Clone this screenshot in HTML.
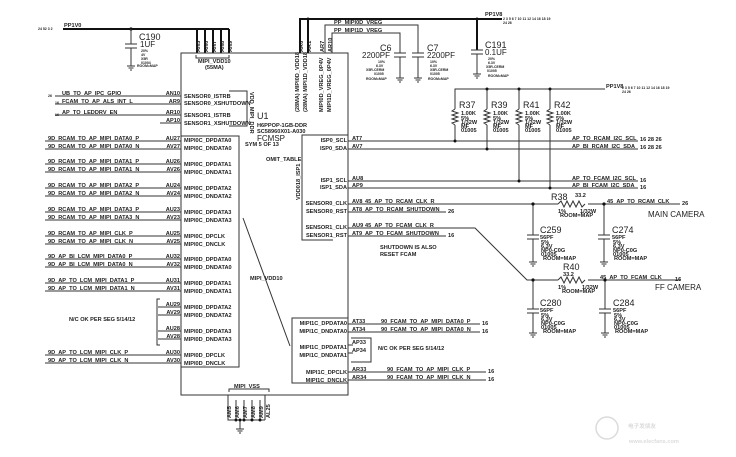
<!DOCTYPE html>
<html><head><meta charset="utf-8"><style>
html,body{margin:0;padding:0;background:#fff;width:736px;height:457px;overflow:hidden}
svg{display:block}
text{font-family:"Liberation Sans",sans-serif;font-weight:bold;font-size:5.6px;fill:#222}
.b{font-size:9px;font-weight:normal}
.m{font-size:8px;font-weight:normal}
.s{font-size:3.5px}
.l{stroke:#333;stroke-width:1;fill:none}
.t{stroke:#111;stroke-width:2;fill:none}
</style></head><body>
<svg width="736" height="457" viewBox="0 0 736 457" xmlns="http://www.w3.org/2000/svg">
<text class="s" x="38" y="30">24 52 3 2</text>
<text x="64" y="27">PP1V0</text>
<path class="t" d="M63 29H229M197 29V53M205 29V53M213 29V53M221 29V53M229 29V53"/>
<circle cx="131" cy="29" r="1.6" fill="#111"/>
<path class="l" d="M131 29V44M125 44H137M125 48H137M131 48V66M127 66H135M128.5 68H133.5M130 70H132"/>
<text class="b" x="139" y="40">C190</text><text class="m" x="140" y="47">1UF</text>
<text class="s" x="141" y="52">20%</text><text class="s" x="141" y="56">4V</text><text class="s" x="141" y="60">X5R</text><text class="s" x="141" y="64">01004</text><text class="s" x="137" y="67">ROOM=MAP</text>
<g font-size="5" transform="rotate(-90)"><text x="-52" y="200">AN5</text><text x="-52" y="208">AN6</text><text x="-52" y="216">AN7</text><text x="-52" y="224">AN8</text><text x="-52" y="232">AN9</text>
<text x="-52" y="303">AR6</text><text x="-52" y="311">AR1</text><text x="-52" y="324">AR7</text><text x="-52" y="332">AR10</text></g>
<path class="l" d="M196 55v3h33v-3"/>
<text x="198" y="63">MIPI_VDD10</text><text x="205" y="69">(55MA)</text>
<rect x="181" y="53" width="167" height="342" class="l"/>
<path class="l" d="M181 136H239V367H181"/>
<path class="l" d="M229 91H247V126H229"/>
<text font-size="4" transform="translate(250,92) rotate(90)">VDD_MIPI_DDR</text>
<text class="b" font-size="14" x="257" y="119">U1</text>
<text x="257" y="127">H6PPOP-1GB-DDR</text>
<text x="257" y="133">SC58960X01-A030</text>
<text class="m" x="257" y="141">FCMSP</text>
<text x="245" y="146">SYM 5 OF 13</text>
<text x="266" y="161">OMIT_TABLE</text>
<path class="l" d="M243 218L290 346"/>
<text font-size="4" x="250" y="280">MIPI_VDD10</text>
<g transform="rotate(-90)"><text x="-112" y="299">(28MA) MIPI0D_VDD18</text><text x="-112" y="307">(28MA) MIPI1D_VDD18</text><text x="-112" y="323">MIPI0D_VREG_0P4V</text><text x="-112" y="331">MIPI1D_VREG_0P4V</text></g>
<text font-size="3.5" transform="translate(300,200) rotate(-90)">VDD018_ISP1</text>
<g class="l">
<path d="M55 96H181M55 104H181M55 115H181M160 123H181M45 141H181M45 149H181M45 164H181M45 172H181M45 188H181M45 196H181M45 212H181M45 220H181M45 236H181M45 244H181M45 259H181M45 267H181M45 283H181M45 291H181M158 307H181M158 315H181M158 331H181M158 339H181M45 355H181M45 363H181"/>
<path d="M160 299H157V345H160"/>
</g>
<g font-size="5.2">
<text class="s" x="48" y="97">26</text><text x="62" y="95">UB_TO_AP_IPC_GPIO</text>
<text class="s" x="55" y="104">16</text><text x="62" y="103">FCAM_TO_AP_ALS_INT_L</text>
<text class="s" x="55" y="116">16</text><text x="62" y="114">AP_TO_LEDDRV_EN</text>
<text x="48" y="140">9D_RCAM_TO_AP_MIPI_DATA0_P</text><text x="48" y="148">9D_RCAM_TO_AP_MIPI_DATA0_N</text>
<text x="48" y="163">9D_RCAM_TO_AP_MIPI_DATA1_P</text><text x="48" y="171">9D_RCAM_TO_AP_MIPI_DATA1_N</text>
<text x="48" y="187">9D_RCAM_TO_AP_MIPI_DATA2_P</text><text x="48" y="195">9D_RCAM_TO_AP_MIPI_DATA2_N</text>
<text x="48" y="211">9D_RCAM_TO_AP_MIPI_DATA3_P</text><text x="48" y="219">9D_RCAM_TO_AP_MIPI_DATA3_N</text>
<text x="48" y="235">9D_RCAM_TO_AP_MIPI_CLK_P</text><text x="48" y="243">9D_RCAM_TO_AP_MIPI_CLK_N</text>
<text x="48" y="258">9D_AP_BI_LCM_MIPI_DATA0_P</text><text x="48" y="266">9D_AP_BI_LCM_MIPI_DATA0_N</text>
<text x="48" y="282">9D_AP_TO_LCM_MIPI_DATA1_P</text><text x="48" y="290">9D_AP_TO_LCM_MIPI_DATA1_N</text>
<text x="69" y="321">N/C OK PER SEG 5/14/12</text>
<text x="48" y="354">9D_AP_TO_LCM_MIPI_CLK_P</text><text x="48" y="362">9D_AP_TO_LCM_MIPI_CLK_N</text>
</g>
<g text-anchor="end" font-size="5.2">
<text x="180" y="95">AN10</text><text x="180" y="103">AR9</text><text x="180" y="114">AR10</text><text x="180" y="122">AP10</text>
<text x="180" y="140">AU27</text><text x="180" y="148">AV27</text><text x="180" y="163">AU26</text><text x="180" y="171">AV26</text>
<text x="180" y="187">AU24</text><text x="180" y="195">AV24</text><text x="180" y="211">AU23</text><text x="180" y="219">AV23</text>
<text x="180" y="235">AU25</text><text x="180" y="243">AV25</text><text x="180" y="258">AU32</text><text x="180" y="266">AV32</text>
<text x="180" y="282">AU31</text><text x="180" y="290">AV31</text><text x="180" y="306">AU29</text><text x="180" y="314">AV29</text>
<text x="180" y="330">AU28</text><text x="180" y="338">AV28</text><text x="180" y="354">AU30</text><text x="180" y="362">AV30</text>
</g>
<g font-size="5.2">
<text x="184" y="98">SENSOR0_ISTRB</text><text x="184" y="105">SENSOR0_XSHUTDOWN</text><text x="184" y="117">SENSOR1_ISTRB</text><text x="184" y="125">SENSOR1_XSHUTDOWN</text>
<text x="184" y="142">MIPI0C_DPDATA0</text><text x="184" y="150">MIPI0C_DNDATA0</text><text x="184" y="166">MIPI0C_DPDATA1</text><text x="184" y="174">MIPI0C_DNDATA1</text>
<text x="184" y="190">MIPI0C_DPDATA2</text><text x="184" y="198">MIPI0C_DNDATA2</text><text x="184" y="214">MIPI0C_DPDATA3</text><text x="184" y="222">MIPI0C_DNDATA3</text>
<text x="184" y="238">MIPI0C_DPCLK</text><text x="184" y="246">MIPI0C_DNCLK</text><text x="184" y="261">MIPI0D_DPDATA0</text><text x="184" y="269">MIPI0D_DNDATA0</text>
<text x="184" y="285">MIPI0D_DPDATA1</text><text x="184" y="293">MIPI0D_DNDATA1</text><text x="184" y="309">MIPI0D_DPDATA2</text><text x="184" y="317">MIPI0D_DNDATA2</text>
<text x="184" y="333">MIPI0D_DPDATA3</text><text x="184" y="341">MIPI0D_DNDATA3</text><text x="184" y="357">MIPI0D_DPCLK</text><text x="184" y="365">MIPI0D_DNCLK</text>
</g>
<path class="l" d="M348 135H302V240H333"/>
<path class="l" d="M348 318H292V383H348"/>
<g font-size="5.2" text-anchor="end">
<text x="347" y="142">ISP0_SCL</text><text x="347" y="150">ISP0_SDA</text><text x="347" y="182">ISP1_SCL</text><text x="347" y="189">ISP1_SDA</text>
<text x="347" y="205">SENSOR0_CLK</text><text x="347" y="213">SENSOR0_RST</text><text x="347" y="229">SENSOR1_CLK</text><text x="347" y="237">SENSOR1_RST</text>
<text x="347" y="325">MIPI1C_DPDATA0</text><text x="347" y="333">MIPI1C_DNDATA0</text><text x="347" y="349">MIPI1C_DPDATA1</text><text x="347" y="357">MIPI1C_DNDATA1</text>
<text x="347" y="374">MIPI1C_DPCLK</text><text x="347" y="382">MIPI1C_DNCLK</text>
</g>
<path class="l" d="M229 392v-3h40v3"/>
<text x="234" y="388">MIPI_VSS</text>
<path class="l" d="M228 395V420H265M228 400V420M236 400V420M244 400V420M252 400V420M260 400V420M265 395V420M240 420V429M236 429H244M237.5 431H242.5M239 433H241"/>
<g font-size="5" transform="rotate(-90)"><text x="-418" y="231">AM5</text><text x="-418" y="239">AM6</text><text x="-418" y="247">AM7</text><text x="-418" y="255">AM8</text><text x="-418" y="263">AM9</text><text x="-418" y="270">AL25</text></g>
<circle cx="236" cy="420" r="1.5" fill="#111"/><circle cx="240" cy="420" r="1.5" fill="#111"/><circle cx="244" cy="420" r="1.5" fill="#111"/><circle cx="252" cy="420" r="1.5" fill="#111"/><circle cx="260" cy="420" r="1.5" fill="#111"/>
<path class="t" d="M300 53V19H502M308 53V19"/>
<circle cx="308" cy="19" r="1.5" fill="#111"/><circle cx="477" cy="19" r="1.5" fill="#111"/>
<text x="485" y="16">PP1V8</text><text class="s" x="503" y="20">2 3 5 6 7 10 11 12 14 16 18 19</text><text class="s" x="503" y="24">24 26</text>
<path class="l" d="M325 53V25H418V53M332 53V33H400V53"/>
<text x="334" y="24">PP_MIPI0D_VREG</text><text x="334" y="32">PP_MIPI1D_VREG</text>
<path class="l" d="M394 53H406M394 57H406M400 57V78M396 78H404M397.5 80H402.5M399 82H401"/>
<path class="l" d="M412 53H424M412 57H424M418 57V78M414 78H422M415.5 80H420.5M417 82H419"/>
<path class="t" d="M477 19V50"/><path class="l" d="M471 50H483M471 54H483M477 54V74M473 74H481M474.5 76H479.5M476 78H478"/>
<text class="b" x="380" y="51">C6</text><text class="m" x="362" y="58">2200PF</text><text class="s" x="378" y="63">10%</text><text class="s" x="376" y="67">6.3V</text><text class="s" x="366" y="71">X5R-CERM</text><text class="s" x="374" y="75">01005</text><text class="s" x="366" y="80">ROOM=MAP</text>
<text class="b" x="427" y="51">C7</text><text class="m" x="427" y="58">2200PF</text><text class="s" x="430" y="63">10%</text><text class="s" x="430" y="67">6.3V</text><text class="s" x="430" y="71">X5R-CERM</text><text class="s" x="430" y="75">01005</text><text class="s" x="428" y="80">ROOM=MAP</text>
<text class="b" x="485" y="48">C191</text><text class="m" x="485" y="55">0.1UF</text><text class="s" x="488" y="60">20%</text><text class="s" x="488" y="64">6.3V</text><text class="s" x="486" y="68">X5R-CERM</text><text class="s" x="487" y="72">01005</text><text class="s" x="488" y="77">ROOM=MAP</text>
<path class="l" d="M455 109V89H605M487 109V89M519 109V89M550 109V89M455 125V141M487 125V148M519 125V181M550 125V188"/>
<path class="l" d="M455 109l-3 2 6 2-6 2 6 2-6 2 6 2-6 2 3 2M487 109l-3 2 6 2-6 2 6 2-6 2 6 2-6 2 3 2M519 109l-3 2 6 2-6 2 6 2-6 2 6 2-6 2 3 2M550 109l-3 2 6 2-6 2 6 2-6 2 6 2-6 2 3 2"/>
<text x="606" y="88">PP1V8</text><text class="s" x="622" y="89">2 3 5 6 7 10 11 12 14 16 18 19</text><text class="s" x="622" y="93">24 26</text>
<circle cx="487" cy="89" r="1.5" fill="#111"/><circle cx="519" cy="89" r="1.5" fill="#111"/><circle cx="550" cy="89" r="1.5" fill="#111"/>
<text class="b" x="459" y="108">R37</text><text class="b" x="491" y="108">R39</text><text class="b" x="523" y="108">R41</text><text class="b" x="554" y="108">R42</text>
<g font-size="6"><text x="461" y="115">1.00K</text><text x="493" y="115">1.00K</text><text x="525" y="115">1.00K</text><text x="556" y="115">1.00K</text></g>
<g class="s"><text x="461" y="120">5%</text><text x="461" y="124">1/32W</text><text x="461" y="128">MF</text><text x="461" y="132">01005</text>
<text x="493" y="120">5%</text><text x="493" y="124">1/32W</text><text x="493" y="128">MF</text><text x="493" y="132">01005</text>
<text x="525" y="120">5%</text><text x="525" y="124">1/32W</text><text x="525" y="128">MF</text><text x="525" y="132">01005</text>
<text x="556" y="120">5%</text><text x="556" y="124">1/32W</text><text x="556" y="128">MF</text><text x="556" y="132">01005</text></g>
<path class="l" d="M348 141H638M348 149H638M348 181H638M348 188H638"/>
<circle cx="455" cy="141" r="1.5" fill="#111"/><circle cx="487" cy="149" r="1.5" fill="#111"/><circle cx="519" cy="181" r="1.5" fill="#111"/><circle cx="550" cy="188" r="1.5" fill="#111"/>
<g font-size="5.2"><text x="352" y="140">AT7</text><text x="352" y="148">AV7</text><text x="352" y="180">AU8</text><text x="352" y="187">AP9</text>
<text x="572" y="140">AP_TO_RCAM_I2C_SCL</text><text x="572" y="148">AP_BI_RCAM_I2C_SDA</text><text x="572" y="180">AP_TO_FCAM_I2C_SCL</text><text x="572" y="187">AP_BI_FCAM_I2C_SDA</text></g>
<g class="s"><text x="640" y="141">16 28 26</text><text x="640" y="149">16 28 26</text><text x="640" y="182">16</text><text x="640" y="189">16</text></g>
<path class="l" d="M348 204H558M588 204H680M348 212H446M348 228H475L527 280H558M588 280H680M348 236H446"/>
<path class="l" d="M558 204l3-3 3 6 3-6 3 6 3-6 3 6 3-6 3 6 3-3M558 280l3-3 3 6 3-6 3 6 3-6 3 6 3-6 3 6 3-3"/>
<g font-size="5.2"><text x="352" y="203">AV8</text><text x="365" y="203">45_AP_TO_RCAM_CLK_R</text><text x="352" y="211">AT8</text><text x="365" y="211">AP_TO_RCAM_SHUTDOWN</text>
<text x="352" y="227">AU9</text><text x="365" y="227">45_AP_TO_FCAM_CLK_R</text><text x="352" y="235">AT9</text><text x="365" y="235">AP_TO_FCAM_SHUTDOWN</text>
<text x="380" y="249">SHUTDOWN IS ALSO</text><text x="380" y="256">RESET FCAM</text>
<text x="607" y="203">45_AP_TO_RCAM_CLK</text><text x="600" y="279">45_AP_TO_FCAM_CLK</text></g>
<g class="s"><text x="448" y="213">26</text><text x="448" y="237">16</text><text x="682" y="205">26</text><text x="675" y="281">16</text></g>
<text class="b" x="551" y="200">R38</text><text font-size="5" x="575" y="197">33.2</text>
<text class="b" x="563" y="270">R40</text><text font-size="6" x="563" y="276">33.2</text>
<text class="m" x="648" y="217">MAIN CAMERA</text><text class="m" x="655" y="290">FF CAMERA</text>
<path class="l" d="M533 204V235M527 235H539M527 239H539M533 239V262M529 262H537M530.5 264H535.5M532 266H534"/>
<path class="l" d="M604 204V235M598 235H610M598 239H610M604 239V262M600 262H608M601.5 264H606.5M603 266H605"/>
<path class="l" d="M533 280V309M527 309H539M527 313H539M533 313V333M529 333H537M530.5 335H535.5M532 337H534"/>
<path class="l" d="M605 280V309M599 309H611M599 313H611M605 313V333M601 333H609M602.5 335H607.5M604 337H606"/>
<circle cx="533" cy="204" r="1.6" fill="#111"/><circle cx="604" cy="204" r="1.6" fill="#111"/><circle cx="533" cy="280" r="1.6" fill="#111"/><circle cx="605" cy="280" r="1.6" fill="#111"/>
<text class="b" x="540" y="233">C259</text><text font-size="7" x="540" y="239">56PF</text><text class="b" x="612" y="233">C274</text><text font-size="7" x="612" y="239">56PF</text>
<text class="b" x="540" y="306">C280</text><text font-size="7" x="540" y="312">56PF</text><text class="b" x="613" y="306">C284</text><text font-size="7" x="613" y="312">56PF</text>
<g class="s"><text x="541" y="244">5%</text><text x="541" y="248">6.3V</text><text x="541" y="252">NP0-C0G</text><text x="541" y="256">01005</text><text x="543" y="260">ROOM=MAP</text>
<text x="613" y="244">5%</text><text x="613" y="248">6.3V</text><text x="613" y="252">NP0-C0G</text><text x="613" y="256">01005</text><text x="614" y="260">ROOM=MAP</text>
<text x="541" y="317">5%</text><text x="541" y="321">6.3V</text><text x="541" y="325">NP0-C0G</text><text x="541" y="329">01005</text><text x="543" y="333">ROOM=MAP</text>
<text x="614" y="317">5%</text><text x="614" y="321">6.3V</text><text x="614" y="325">NP0-C0G</text><text x="614" y="329">01005</text><text x="615" y="333">ROOM=MAP</text>
<text x="558" y="213">1%</text><text x="580" y="213">1/32W</text><text x="560" y="217">ROOM=MAP</text><text x="558" y="289">1%</text><text x="582" y="289">1/32W</text><text x="562" y="293">ROOM=MAP</text></g>
<path class="l" d="M348 324H480M348 332H480M348 372H486M348 380H486M348 345H353M348 353H353M351 338H371V362H351"/>
<g font-size="5.2"><text x="352" y="323">AT33</text><text x="352" y="331">AT34</text><text x="352" y="344">AP33</text><text x="352" y="352">AP34</text><text x="352" y="371">AR33</text><text x="352" y="379">AR34</text>
<text x="381" y="323">90_FCAM_TO_AP_MIPI_DATA0_P</text><text x="381" y="331">90_FCAM_TO_AP_MIPI_DATA0_N</text>
<text x="378" y="350">N/C OK PER SEG 5/14/12</text>
<text x="387" y="371">90_FCAM_TO_AP_MIPI_CLK_P</text><text x="387" y="379">90_FCAM_TO_AP_MIPI_CLK_N</text></g>
<g class="s"><text x="482" y="325">16</text><text x="482" y="333">16</text><text x="488" y="373">16</text><text x="488" y="381">16</text></g>
<g opacity="0.35"><circle cx="607" cy="428" r="11" fill="none" stroke="#999" stroke-width="1.5"/>
<text x="628" y="428" font-size="11" font-weight="normal" style="fill:#999;font-family:'Noto Sans CJK SC',sans-serif">电子发烧友</text>
<text x="629" y="443" font-size="8" font-weight="normal" style="fill:#999">www.elecfans.com</text></g>
</svg>
</body></html>
